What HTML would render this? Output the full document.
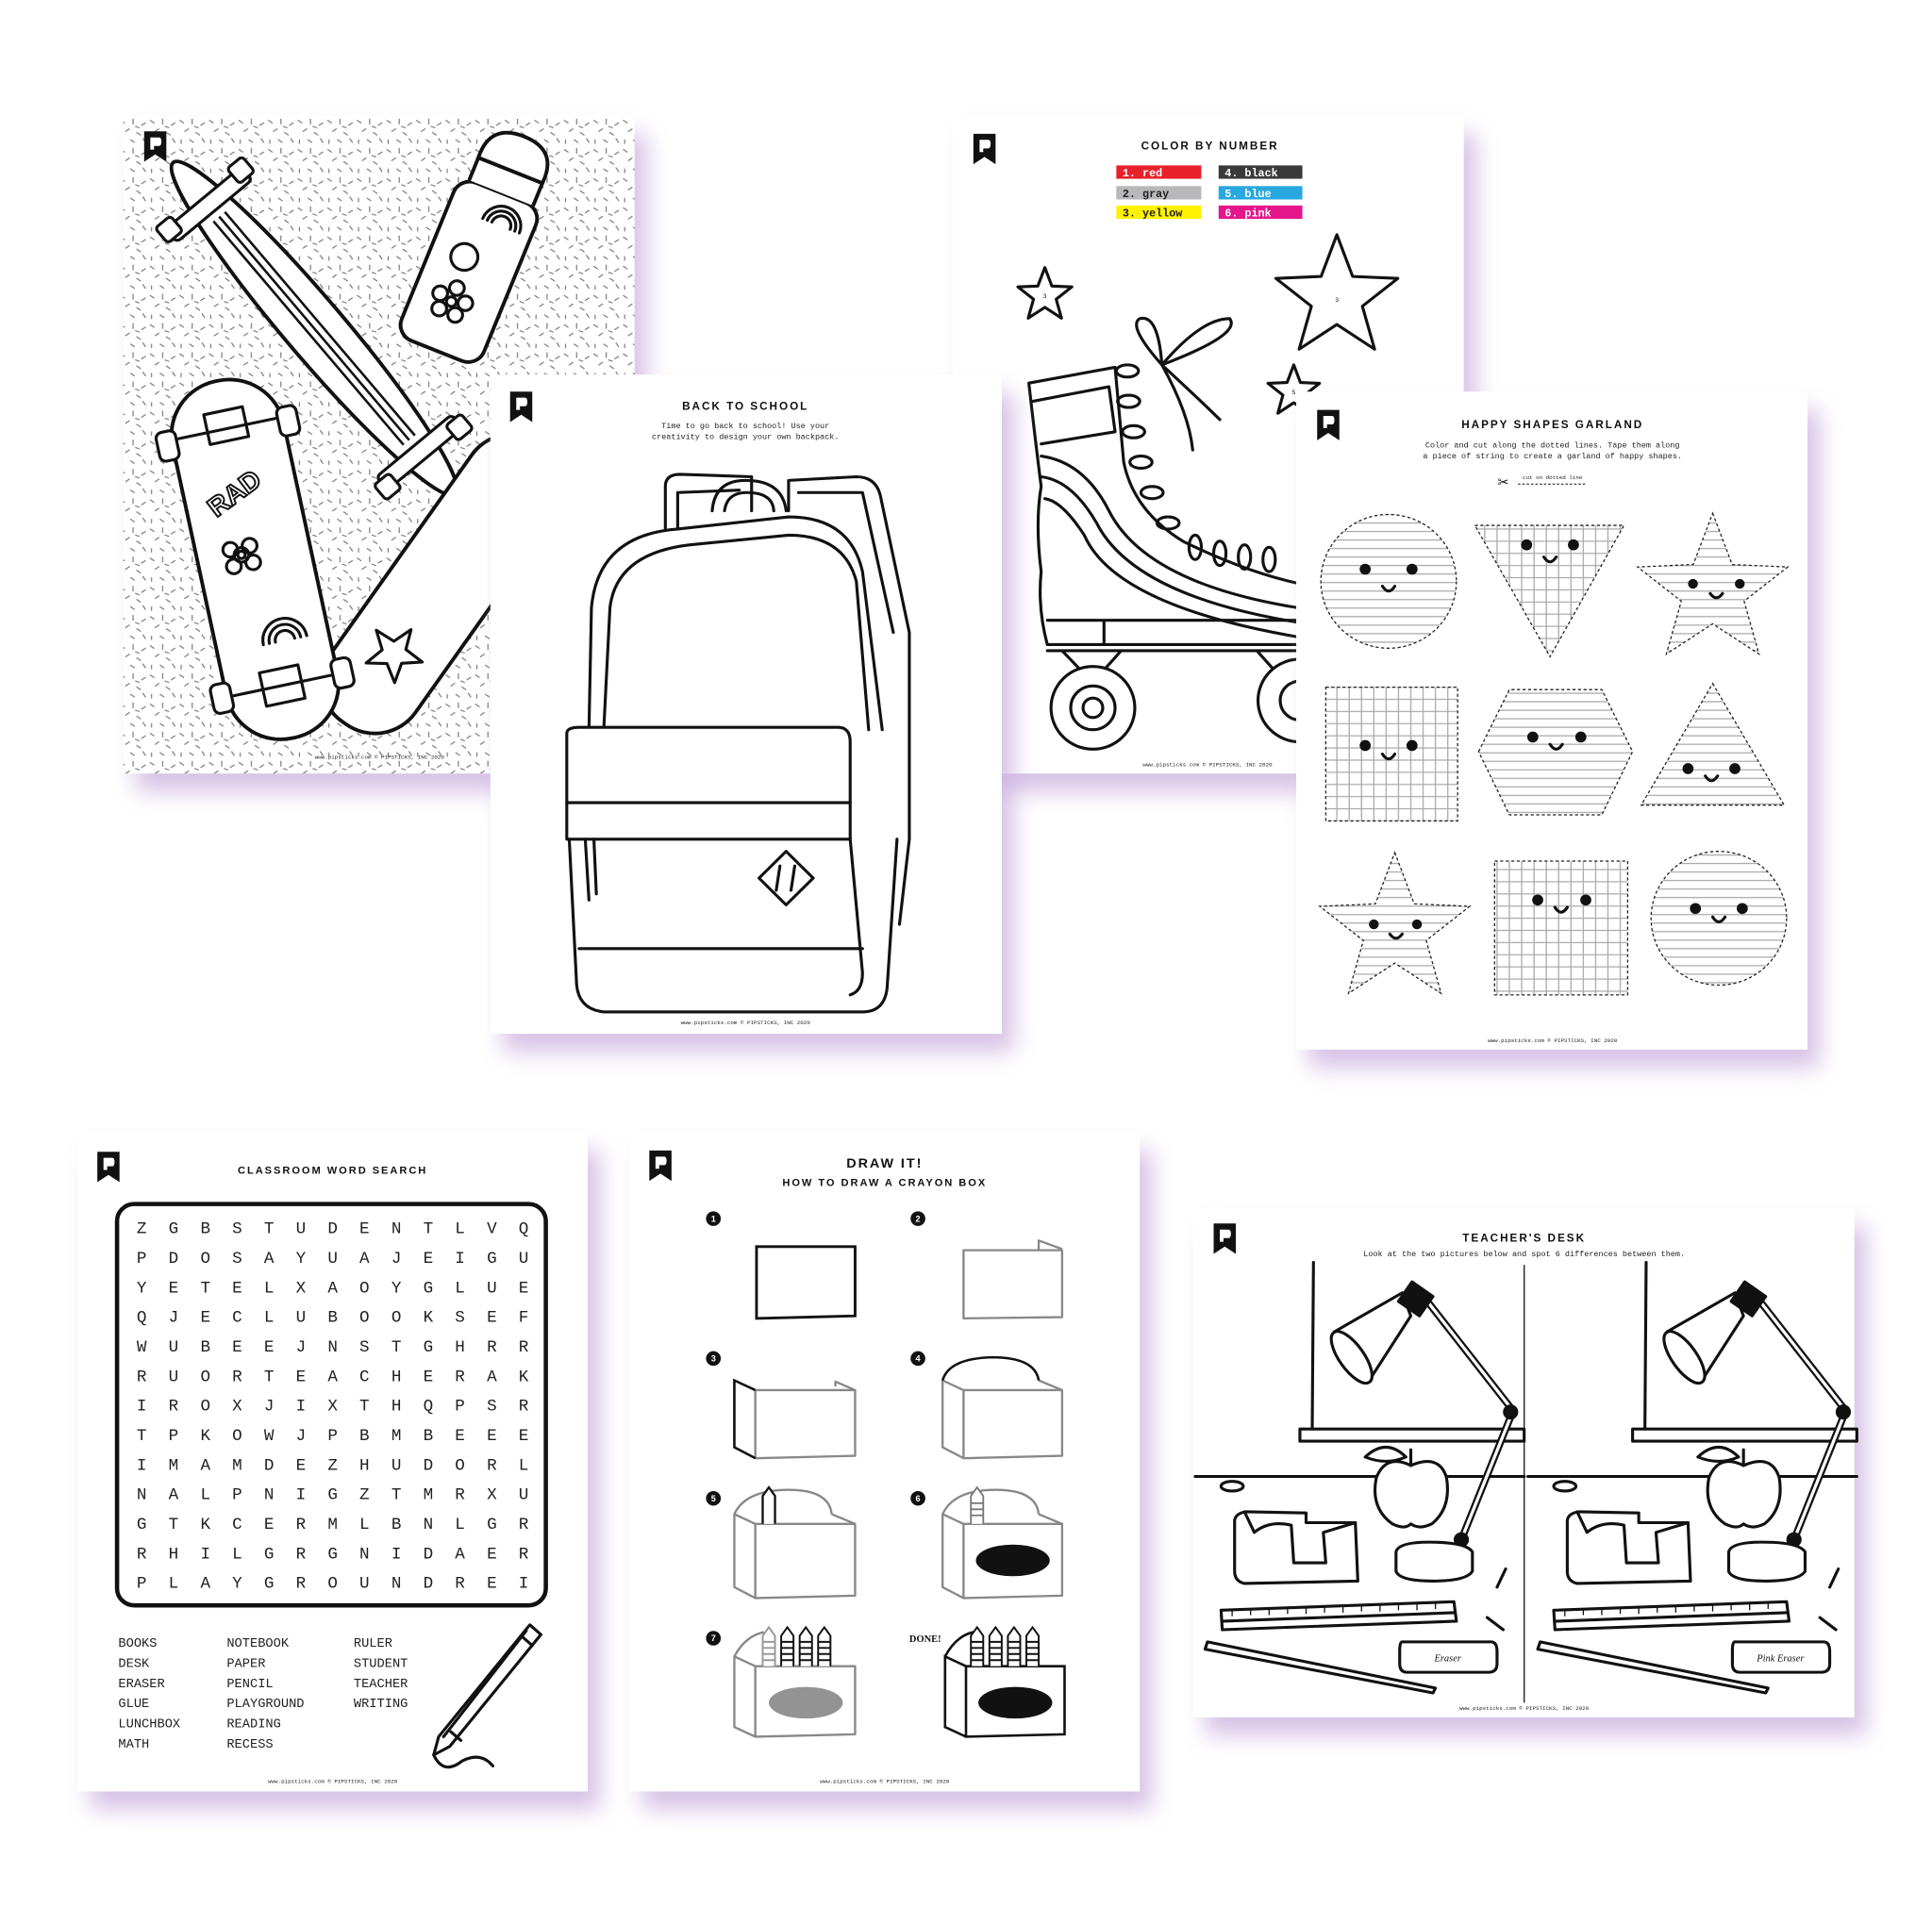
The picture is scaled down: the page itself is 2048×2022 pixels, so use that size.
<!DOCTYPE html>
<html><head><meta charset="utf-8"><style>
html,body{margin:0;padding:0;background:#fff;width:2048px;height:2022px;overflow:hidden}
svg{display:block}
.t{font-family:"Liberation Sans",sans-serif;font-weight:bold;letter-spacing:1.5px;fill:#111}
.m{font-family:"Liberation Mono",monospace;fill:#222}
.ln{fill:none;stroke:#111;stroke-width:2.4;stroke-linejoin:round;stroke-linecap:round}
.gr{fill:none;stroke:#888;stroke-width:1.8;stroke-linejoin:round}
.pg{fill:#fff}
.st{fill:#fff;stroke:#111;stroke-width:2.4;stroke-linejoin:round}
</style></head><body>
<svg width="2048" height="2022" viewBox="0 0 1568 1568" preserveAspectRatio="none" xmlns="http://www.w3.org/2000/svg">
<defs>
<filter id="sh" x="-20%" y="-20%" width="140%" height="140%"><feGaussianBlur stdDeviation="9"/></filter>
<pattern id="spk" width="24" height="24" patternUnits="userSpaceOnUse">
<g stroke="#777" stroke-width="0.9" stroke-linecap="round">
<line x1="2" y1="3" x2="5" y2="5"/><line x1="12" y1="2" x2="12" y2="6"/><line x1="19" y1="7" x2="22" y2="5"/>
<line x1="6" y1="12" x2="9" y2="10"/><line x1="15" y1="13" x2="18" y2="15"/><line x1="3" y1="19" x2="3" y2="22"/>
<line x1="10" y1="19" x2="13" y2="21"/><line x1="20" y1="18" x2="22" y2="21"/><line x1="17" y1="9" x2="14" y2="8"/>
</g></pattern>
<pattern id="hl" width="6" height="7" patternUnits="userSpaceOnUse"><line x1="0" y1="3" x2="6" y2="3" stroke="#aaa" stroke-width="1"/></pattern>
<pattern id="grid" width="10" height="10" patternUnits="userSpaceOnUse"><path d="M0 5H10M5 0V10" stroke="#aaa" stroke-width="1"/></pattern>
<g id="logo"><path d="M0 0H18V25L9 19L0 25Z" fill="#111"/><path d="M5 5H12Q14 5 14 8.5Q14 12 12 12H8V15H5Z" fill="#fff"/></g>
</defs>

<!-- ============ SKATE PAGE ============ -->
<rect x="110" y="110" width="415" height="541" fill="#cdb4e0" filter="url(#sh)" opacity=".8"/>
<rect class="pg" x="100" y="95" width="415" height="541"/>
<rect x="100" y="95" width="415" height="541" fill="url(#spk)"/>
<use href="#logo" x="117" y="108"/>
<g transform="translate(255,270) rotate(50)">
<ellipse rx="178" ry="24" fill="#fff" stroke="#111" stroke-width="3"/>
<line x1="-120" y1="-6" x2="120" y2="-6" stroke="#111" stroke-width="2"/><line x1="-120" y1="0" x2="120" y2="0" stroke="#111" stroke-width="2"/><line x1="-120" y1="6" x2="120" y2="6" stroke="#111" stroke-width="2"/>
<g class="ln"><rect x="-140" y="-40" width="14" height="80" rx="4" fill="#fff"/><rect x="126" y="-40" width="14" height="80" rx="4" fill="#fff"/>
<rect x="-146" y="-46" width="16" height="16" rx="3" fill="#fff"/><rect x="-146" y="30" width="16" height="16" rx="3" fill="#fff"/>
<rect x="130" y="-46" width="16" height="16" rx="3" fill="#fff"/><rect x="130" y="30" width="16" height="16" rx="3" fill="#fff"/></g>
</g>
<g transform="translate(388,205) rotate(22)">
<rect x="-36" y="-50" width="72" height="140" rx="14" fill="#fff" stroke="#111" stroke-width="3"/>
<path d="M-28 -50V-70H28V-50" fill="#fff" stroke="#111" stroke-width="3"/>
<path d="M-28 -70Q-30 -100 0 -100Q30 -100 28 -70Z" fill="#fff" stroke="#111" stroke-width="3"/>
<path d="M-6 -25A16 16 0 0 1 26 -25M-2 -25A12 12 0 0 1 22 -25M2 -25A8 8 0 0 1 18 -25" class="ln" stroke-width="2"/>
<circle cx="-8" cy="10" r="11" class="ln" stroke-width="2"/>
<g class="ln" stroke-width="2"><circle cx="-4" cy="36" r="6"/><circle cx="7" cy="45" r="6"/><circle cx="-15" cy="45" r="6"/><circle cx="3" cy="57" r="6"/><circle cx="-11" cy="57" r="6"/><circle cx="-4" cy="48" r="4"/></g>
</g>
<g transform="translate(360,480) rotate(35)">
<rect x="-42" y="-140" width="84" height="280" rx="40" fill="#fff" stroke="#111" stroke-width="3"/>
<polygon class="st" points="0,46 5.9,61.8 22.8,62.6 9.6,73.1 14.1,89.4 0,80.1 -14.1,89.4 -9.6,73.1 -22.8,62.6 -5.9,61.8"/>
</g>
<g transform="translate(207,460) rotate(-12)">
<rect x="-46" y="-150" width="92" height="300" rx="45" fill="#fff" stroke="#111" stroke-width="3"/>
<g class="ln" stroke-width="2.5"><rect x="-58" y="-118" width="16" height="24" rx="5" fill="#fff"/><rect x="42" y="-118" width="16" height="24" rx="5" fill="#fff"/><path d="M-40 -110H40M-16 -125H16V-100H-16Z"/>
<rect x="-58" y="94" width="16" height="24" rx="5" fill="#fff"/><rect x="42" y="94" width="16" height="24" rx="5" fill="#fff"/><path d="M-40 106H40M-16 92H16V120H-16Z"/></g>
<text x="-2" y="-50" text-anchor="middle" transform="rotate(-25 -2 -50)" font-family="Liberation Sans" font-weight="bold" font-size="22" fill="#fff" stroke="#111" stroke-width="1.5">RAD</text>
<g class="ln" stroke-width="2"><circle cx="-10" cy="-6" r="6"/><circle cx="-18" cy="-12" r="6"/><circle cx="-2" cy="-12" r="6"/><circle cx="-18" cy="2" r="6"/><circle cx="-2" cy="2" r="6"/><circle cx="-10" cy="-6" r="3"/>
<path d="M-8 70A18 18 0 0 1 28 70M-3 70A13 13 0 0 1 23 70M2 70A8 8 0 0 1 18 70"/></g>
</g>
<text x="308" y="624" class="m" font-size="4.5" text-anchor="middle">www.pipsticks.com   © PIPSTICKS, INC 2020</text>

<!-- ============ COLOR BY NUMBER PAGE ============ -->
<rect x="783" y="110" width="415" height="541" fill="#cdb4e0" filter="url(#sh)" opacity=".8"/>
<rect class="pg" x="773" y="95" width="415" height="541"/>
<use href="#logo" x="790" y="110"/>
<text x="982" y="123" class="t" font-size="9" text-anchor="middle">COLOR BY NUMBER</text>
<g font-family="Liberation Mono" font-weight="bold" font-size="9">
<rect x="906" y="136" width="69" height="11" fill="#e8202a"/><text x="911" y="145" fill="#fff">1. red</text>
<rect x="989" y="136" width="68" height="11" fill="#3a3a3a"/><text x="994" y="145" fill="#fff">4. black</text>
<rect x="906" y="153" width="69" height="11" fill="#b8b8ba"/><text x="911" y="162" fill="#222">2. gray</text>
<rect x="989" y="153" width="68" height="11" fill="#29a8df"/><text x="994" y="162" fill="#fff">5. blue</text>
<rect x="906" y="169" width="69" height="11" fill="#fff200"/><text x="911" y="178" fill="#222">3. yellow</text>
<rect x="989" y="169" width="68" height="11" fill="#e5158c"/><text x="994" y="178" fill="#fff">6. pink</text>
</g>
<polygon class="st" points="848,220 853.7,235.2 869.9,235.9 857.2,246 861.5,261.6 848,252.7 834.5,261.6 838.8,246 826.1,235.9 842.3,235.2"/>
<polygon class="st" points="1085,193 1097.8,227.3 1134.5,228.9 1105.7,251.8 1115.6,287.1 1085,266.8 1054.4,287.1 1064.3,251.8 1035.5,228.9 1072.2,227.3"/>
<polygon class="st" points="1050,300 1055.4,314.5 1070.9,315.2 1058.8,324.9 1062.9,339.8 1050,331.2 1037.1,339.8 1041.2,324.9 1029.1,315.2 1044.6,314.5"/>
<g font-family="Liberation Sans" font-size="5" fill="#111" text-anchor="middle"><text x="848" y="245">3</text><text x="1085" y="248">3</text><text x="1050" y="324">5</text></g>
<g class="ln">
<path d="M835 315L905 302L912 380Q920 420 960 445Q1010 470 1055 480V530H850Q842 500 845 470Q840 430 845 400Q840 360 835 315Z" fill="#fff"/>
<path d="M838 330L900 318L905 355L845 365"/>
<path d="M845 375Q880 380 900 420Q930 480 1055 500M845 392Q870 395 890 430Q920 490 1055 512M848 410Q862 412 880 440Q905 498 1055 524"/>
<path d="M850 510H1055M896 510V530"/>
<path d="M850 535H1055M862 535L878 552M910 535L895 552M1020 535L1035 552"/>
<circle cx="887" cy="582" r="34" fill="#fff"/><circle cx="887" cy="582" r="18"/><circle cx="887" cy="582" r="8"/>
<circle cx="1055" cy="576" r="34" fill="#fff"/><circle cx="1055" cy="576" r="16"/>
<path d="M943 300Q915 268 925 262Q940 258 943 300Q975 262 998 262Q1008 275 943 300"/>
<path d="M943 300Q975 330 990 345M943 300Q965 340 968 370"/>
</g>
<g class="ln" stroke-width="2.6">
<ellipse cx="915" cy="305" rx="9" ry="5"/><ellipse cx="916" cy="330" rx="9" ry="5"/><ellipse cx="920" cy="355" rx="9" ry="5"/><ellipse cx="926" cy="380" rx="9" ry="5"/><ellipse cx="935" cy="405" rx="9" ry="5"/><ellipse cx="948" cy="430" rx="9" ry="5"/>
<ellipse cx="970" cy="450" rx="5" ry="10"/><ellipse cx="990" cy="455" rx="5" ry="10"/><ellipse cx="1010" cy="458" rx="5" ry="10"/><ellipse cx="1030" cy="460" rx="5" ry="10"/>
</g>
<text x="980" y="630" class="m" font-size="4.5" text-anchor="middle">www.pipsticks.com   © PIPSTICKS, INC 2020</text>

<!-- ============ BACKPACK PAGE ============ -->
<rect x="408" y="323" width="415" height="542" fill="#cdb4e0" filter="url(#sh)" opacity=".8"/>
<rect class="pg" x="398" y="308" width="415" height="542"/>
<use href="#logo" x="414" y="322"/>
<text x="605" y="337" class="t" font-size="9" text-anchor="middle">BACK TO SCHOOL</text>
<text x="605" y="352" class="m" font-size="6.5" text-anchor="middle">Time to go back to school! Use your</text>
<text x="605" y="361" class="m" font-size="6.5" text-anchor="middle">creativity to design your own backpack.</text>
<g class="ln" stroke-width="2.6">
<path d="M540 440V400Q540 390 552 390L610 392V420M640 420V395L695 392Q712 392 715 410L738 520V690L730 760"/>
<path d="M550 440V405L600 403M648 405L700 405L725 520"/>
<path d="M578 420Q580 395 605 395Q635 395 638 420M588 420Q590 405 606 405Q627 405 628 420"/>
<path d="M480 500Q485 440 550 435L640 425Q690 425 700 470L716 600" fill="#fff"/>
<path d="M478 600L480 500M490 600L495 500Q500 455 560 448L640 440Q685 440 695 478L705 600"/>
<path d="M460 603Q460 598 470 598H680Q690 598 690 610V690H460Z" fill="#fff"/>
<path d="M460 660H690"/>
<path d="M462 690L468 810Q470 830 490 832H700Q718 832 720 812L728 690M690 690L700 800Q700 815 690 818"/>
<path d="M470 780H700"/>
<path d="M475 690L478 740M482 690L484 735"/>
<path d="M638 700L660 722L638 744L616 722Z M633 712L630 732M645 712L642 732"/>
</g>
<text x="605" y="842" class="m" font-size="4.5" text-anchor="middle">www.pipsticks.com   © PIPSTICKS, INC 2020</text>

<!-- ============ SHAPES PAGE ============ -->
<rect x="1062" y="337" width="415" height="541" fill="#cdb4e0" filter="url(#sh)" opacity=".8"/>
<rect class="pg" x="1052" y="322" width="415" height="541"/>
<use href="#logo" x="1069" y="337"/>
<text x="1260" y="352" class="t" font-size="9" text-anchor="middle">HAPPY SHAPES GARLAND</text>
<text x="1260" y="368" class="m" font-size="6.5" text-anchor="middle">Color and cut along the dotted lines. Tape them along</text>
<text x="1260" y="377" class="m" font-size="6.5" text-anchor="middle">a piece of string to create a garland of happy shapes.</text>
<text x="1220" y="400" font-size="11" text-anchor="middle" fill="#111" font-family="DejaVu Sans">✂</text>
<text x="1260" y="394" class="m" font-size="4.5" text-anchor="middle">cut on dotted line</text>
<line x1="1232" y1="398" x2="1288" y2="398" stroke="#111" stroke-width="0.8" stroke-dasharray="2 1.5"/>
<g stroke="#222" stroke-width="1" stroke-dasharray="2.5 2">
<circle cx="1127" cy="478" r="55" fill="url(#hl)"/>
<polygon points="1197,432 1318,432 1258,540" fill="url(#grid)"/>
<polygon fill="url(#hl)" points="1390,422 1405.8,464.2 1450.9,466.2 1415.5,494.3 1427.6,537.8 1390,512.9 1352.4,537.8 1364.5,494.3 1329.1,466.2 1374.2,464.2"/>
<rect x="1076" y="565" width="107" height="110" fill="url(#grid)"/>
<polygon points="1200,618 1225,567 1300,567 1325,618 1300,670 1225,670" fill="url(#hl)"/>
<polygon points="1390,562 1448,662 1332,662" fill="url(#hl)"/>
<polygon fill="url(#hl)" points="1132,701 1147.8,743.2 1192.9,745.2 1157.5,773.3 1169.6,816.8 1132,791.9 1094.4,816.8 1106.5,773.3 1071.1,745.2 1116.2,743.2"/>
<rect x="1213" y="708" width="108" height="110" fill="url(#grid)"/>
<circle cx="1395" cy="755" r="55" fill="url(#hl)"/>
</g>
<g fill="#111">
<circle cx="1108" cy="468" r="4.5"/><circle cx="1146" cy="468" r="4.5"/>
<circle cx="1239" cy="448" r="4.5"/><circle cx="1277" cy="448" r="4.5"/>
<circle cx="1374" cy="480" r="4"/><circle cx="1412" cy="480" r="4"/>
<circle cx="1108" cy="613" r="4.5"/><circle cx="1146" cy="613" r="4.5"/>
<circle cx="1244" cy="606" r="4.5"/><circle cx="1283" cy="606" r="4.5"/>
<circle cx="1370" cy="632" r="4.5"/><circle cx="1408" cy="632" r="4.5"/>
<circle cx="1115" cy="760" r="4"/><circle cx="1150" cy="760" r="4"/>
<circle cx="1248" cy="740" r="4.5"/><circle cx="1287" cy="740" r="4.5"/>
<circle cx="1376" cy="747" r="4.5"/><circle cx="1414" cy="747" r="4.5"/>
</g>
<g class="ln" stroke-width="1.4">
<path d="M1122 482Q1127 490 1132 482M1253 458Q1258 466 1263 458M1388 488Q1393 495 1398 488M1122 620Q1127 628 1132 620M1258 612Q1263 620 1268 612M1384 638Q1389 646 1394 638M1128 768Q1133 775 1138 768M1262 746Q1267 754 1272 746M1390 754Q1395 762 1400 754"/>
</g>
<text x="1260" y="857" class="m" font-size="4.5" text-anchor="middle">www.pipsticks.com   © PIPSTICKS, INC 2020</text>

<!-- ============ WORD SEARCH PAGE ============ -->
<rect x="73" y="946" width="414" height="542" fill="#cdb4e0" filter="url(#sh)" opacity=".8"/>
<rect class="pg" x="63" y="931" width="414" height="542"/>
<use href="#logo" x="79" y="947"/>
<text x="270" y="965" class="t" font-size="8.5" text-anchor="middle">CLASSROOM WORD SEARCH</text>
<rect x="95" y="990" width="348" height="330" rx="14" fill="none" stroke="#111" stroke-width="3.5"/>
<g class="m" font-size="13.5" fill="#222" text-anchor="middle">
<text y="1014" x="115 140.8 166.7 192.5 218.3 244.2 270 295.8 321.7 347.5 373.3 399.2 425">ZGBSTUDENTLVQ</text>
<text y="1038.3" x="115 140.8 166.7 192.5 218.3 244.2 270 295.8 321.7 347.5 373.3 399.2 425">PDOSAYUAJEIGU</text>
<text y="1062.6" x="115 140.8 166.7 192.5 218.3 244.2 270 295.8 321.7 347.5 373.3 399.2 425">YETELXAOYGLUE</text>
<text y="1086.9" x="115 140.8 166.7 192.5 218.3 244.2 270 295.8 321.7 347.5 373.3 399.2 425">QJECLUBOOKSEF</text>
<text y="1111.2" x="115 140.8 166.7 192.5 218.3 244.2 270 295.8 321.7 347.5 373.3 399.2 425">WUBEEJNSTGHRR</text>
<text y="1135.5" x="115 140.8 166.7 192.5 218.3 244.2 270 295.8 321.7 347.5 373.3 399.2 425">RUORTEACHERAK</text>
<text y="1159.8" x="115 140.8 166.7 192.5 218.3 244.2 270 295.8 321.7 347.5 373.3 399.2 425">IROXJIXTHQPSR</text>
<text y="1184.1" x="115 140.8 166.7 192.5 218.3 244.2 270 295.8 321.7 347.5 373.3 399.2 425">TPKOWJPBMBEEE</text>
<text y="1208.4" x="115 140.8 166.7 192.5 218.3 244.2 270 295.8 321.7 347.5 373.3 399.2 425">IMAMDEZHUDORL</text>
<text y="1232.7" x="115 140.8 166.7 192.5 218.3 244.2 270 295.8 321.7 347.5 373.3 399.2 425">NALPNIGZTMRXU</text>
<text y="1257" x="115 140.8 166.7 192.5 218.3 244.2 270 295.8 321.7 347.5 373.3 399.2 425">GTKCERMLBNLGR</text>
<text y="1281.3" x="115 140.8 166.7 192.5 218.3 244.2 270 295.8 321.7 347.5 373.3 399.2 425">RHILGRGNIDAER</text>
<text y="1305.6" x="115 140.8 166.7 192.5 218.3 244.2 270 295.8 321.7 347.5 373.3 399.2 425">PLAYGROUNDREI</text>
</g>
<g class="m" font-size="10.5" fill="#222">
<text x="96" y="1354">BOOKS</text><text x="96" y="1370.6">DESK</text><text x="96" y="1387.2">ERASER</text><text x="96" y="1403.8">GLUE</text><text x="96" y="1420.4">LUNCHBOX</text><text x="96" y="1437">MATH</text>
<text x="184" y="1354">NOTEBOOK</text><text x="184" y="1370.6">PAPER</text><text x="184" y="1387.2">PENCIL</text><text x="184" y="1403.8">PLAYGROUND</text><text x="184" y="1420.4">READING</text><text x="184" y="1437">RECESS</text>
<text x="287" y="1354">RULER</text><text x="287" y="1370.6">STUDENT</text><text x="287" y="1387.2">TEACHER</text><text x="287" y="1403.8">WRITING</text>
</g>
<g class="ln" stroke-width="2">
<path d="M430 1336L439 1344L365 1436L352 1443L356 1428Z" fill="#fff"/>
<path d="M423 1345L432 1353M366 1424L374 1431M427 1341L360 1428"/>
<path d="M352 1443Q360 1460 375 1448Q390 1440 400 1452"/>
</g>
<text x="270" y="1466" class="m" font-size="4.5" text-anchor="middle">www.pipsticks.com   © PIPSTICKS, INC 2020</text>

<!-- ============ DRAW IT PAGE ============ -->
<rect x="521" y="946" width="414" height="542" fill="#cdb4e0" filter="url(#sh)" opacity=".8"/>
<rect class="pg" x="511" y="931" width="414" height="542"/>
<use href="#logo" x="527" y="946"/>
<text x="718" y="960" class="t" font-size="11" text-anchor="middle">DRAW IT!</text>
<text x="718" y="975" class="t" font-size="8.5" text-anchor="middle">HOW TO DRAW A CRAYON BOX</text>
<g font-family="Liberation Sans" font-weight="bold" font-size="7" text-anchor="middle">
<circle cx="579" cy="1002" r="6" fill="#111"/><text x="579" y="1004.5" fill="#fff">1</text>
<circle cx="745" cy="1002" r="6" fill="#111"/><text x="745" y="1004.5" fill="#fff">2</text>
<circle cx="579" cy="1117" r="6" fill="#111"/><text x="579" y="1119.5" fill="#fff">3</text>
<circle cx="745" cy="1117" r="6" fill="#111"/><text x="745" y="1119.5" fill="#fff">4</text>
<circle cx="579" cy="1232" r="6" fill="#111"/><text x="579" y="1234.5" fill="#fff">5</text>
<circle cx="745" cy="1232" r="6" fill="#111"/><text x="745" y="1234.5" fill="#fff">6</text>
<circle cx="579" cy="1347" r="6" fill="#111"/><text x="579" y="1349.5" fill="#fff">7</text>
</g>
<text x="738" y="1350" font-family="Liberation Serif" font-weight="bold" font-size="8" fill="#111">DONE!</text>
<path d="M614 1025H694V1082L614 1084Z" fill="none" stroke="#111" stroke-width="2.2"/>
<path d="M782 1028H862V1083L782 1084ZM843 1028V1020L862 1027" class="gr"/>
<path d="M613 1143H694V1197L613 1199ZM694 1143L678 1136V1140" class="gr"/>
<path d="M613 1143L596 1135V1190L613 1199" fill="none" stroke="#111" stroke-width="2"/>
<path d="M782 1143H862V1197L782 1199ZM782 1143L765 1135V1190L782 1199M862 1143L843 1135" class="gr"/>
<path d="M765 1135Q770 1117 805 1116Q840 1116 843 1135" fill="none" stroke="#111" stroke-width="2"/>
<path d="M613 1253H694V1312L613 1314ZM613 1253L596 1245V1305L613 1314M694 1253L675 1245M596 1245Q605 1225 640 1225Q673 1225 675 1245" class="gr"/>
<path d="M619 1253V1230L624 1223L629 1230V1253" fill="#fff" stroke="#111" stroke-width="1.8"/>
<path d="M782 1253H862V1312L782 1314ZM782 1253L765 1245V1305L782 1314M862 1253L843 1245M765 1245Q774 1225 808 1225Q841 1225 843 1245" class="gr"/>
<path d="M788 1253V1230L793 1223L798 1230V1253M788 1236H798M788 1241H798M788 1246H798" fill="#fff" stroke="#777" stroke-width="1.4"/>
<ellipse cx="822" cy="1283" rx="30" ry="13" fill="#111"/>
<path d="M613 1370H694V1426L613 1428ZM613 1370L596 1362V1420L613 1428M596 1362Q605 1345 620 1342" class="gr"/>
<g stroke-width="1.5" fill="#fff">
<path d="M619 1370V1345L624 1338L629 1345V1370M619 1350H629M619 1355H629M619 1360H629M619 1365H629" stroke="#999"/>
<path d="M634 1370V1345L639 1338L644 1345V1370M634 1350H644M634 1355H644M634 1360H644M634 1365H644" stroke="#111"/>
<path d="M649 1370V1345L654 1338L659 1345V1370M649 1350H659M649 1355H659M649 1360H659M649 1365H659" stroke="#111"/>
<path d="M664 1370V1345L669 1338L674 1345V1370M664 1350H674M664 1355H674M664 1360H674M664 1365H674" stroke="#111"/>
</g>
<ellipse cx="654" cy="1400" rx="30" ry="13" fill="#939393"/>
<path d="M784 1370H864V1426L784 1428ZM784 1370L767 1362V1420L784 1428M767 1362Q776 1345 790 1342" fill="none" stroke="#111" stroke-width="2"/>
<g stroke-width="1.5" fill="#fff" stroke="#111">
<path d="M788 1370V1345L793 1338L798 1345V1370M788 1350H798M788 1355H798M788 1360H798M788 1365H798"/>
<path d="M803 1370V1345L808 1338L813 1345V1370M803 1350H813M803 1355H813M803 1360H813M803 1365H813"/>
<path d="M818 1370V1345L823 1338L828 1345V1370M818 1350H828M818 1355H828M818 1360H828M818 1365H828"/>
<path d="M833 1370V1345L838 1338L843 1345V1370M833 1350H843M833 1355H843M833 1360H843M833 1365H843"/>
</g>
<ellipse cx="824" cy="1400" rx="30" ry="13" fill="#111"/>
<text x="718" y="1466" class="m" font-size="4.5" text-anchor="middle">www.pipsticks.com   © PIPSTICKS, INC 2020</text>

<!-- ============ TEACHER'S DESK PAGE ============ -->
<rect x="978" y="1008" width="537" height="419" fill="#cdb4e0" filter="url(#sh)" opacity=".8"/>
<rect class="pg" x="968" y="993" width="537" height="419"/>
<use href="#logo" x="985" y="1006"/>
<text x="1237" y="1021" class="t" font-size="9" text-anchor="middle">TEACHER'S DESK</text>
<text x="1237" y="1033" class="m" font-size="6.5" text-anchor="middle">Look at the two pictures below and spot 6 differences between them.</text>
<line x1="1237" y1="1040" x2="1237" y2="1400" stroke="#333" stroke-width="1.2"/>
<g id="scene">
<g class="ln" stroke-width="2.2">
<path d="M1066 1038L1065 1174"/>
<rect x="1055" y="1175" width="182" height="10" fill="#fff"/>
<path d="M970 1214H1237"/>
<path d="M1160 1072L1228 1160L1186 1266" stroke-width="6" stroke="#111"/>
<path d="M1160 1072L1228 1160L1186 1266" stroke-width="2.5" stroke="#fff"/>
<path d="M1138 1063L1083 1095L1110 1137L1145 1082Z" fill="#fff"/>
<ellipse cx="1097" cy="1116" rx="10" ry="25" transform="rotate(-35 1097 1116)" fill="#fff"/>
<path d="M1146 1054L1163 1066L1152 1082L1135 1070Z" fill="#111"/>
<circle cx="1226" cy="1161" r="5" fill="#111"/><circle cx="1186" cy="1266" r="5" fill="#111"/>
<path d="M1133 1276Q1135 1268 1160 1268Q1190 1268 1195 1276V1292Q1190 1300 1163 1300Q1136 1300 1133 1292Z" fill="#fff"/>
<path d="M1145 1205Q1125 1195 1117 1215Q1112 1240 1130 1253Q1140 1258 1145 1253Q1152 1258 1162 1253Q1178 1240 1174 1215Q1168 1195 1145 1205Z" fill="#fff"/>
<path d="M1145 1205V1192M1141 1198Q1125 1182 1108 1198Q1125 1205 1141 1198"/>
<path d="M1002 1250Q1003 1244 1012 1243L1060 1244L1060 1252H1100L1102 1300L1010 1302Q1002 1300 1002 1292Z" fill="#fff"/>
<path d="M1010 1243L1018 1260Q1030 1250 1048 1254L1050 1285H1076L1074 1260L1100 1252"/>
<path d="M991 1324L1180 1317L1182 1333L992 1340Z" fill="#fff"/>
<path d="M993 1333L1180 1326"/>
<path d="M980 1350L1165 1388L1163 1392L978 1356Z" fill="#fff"/>
<path d="M1138 1350H1210Q1215 1350 1215 1358V1368Q1215 1375 1208 1375H1142Q1136 1375 1136 1368V1357Q1136 1350 1138 1350Z" fill="#fff"/>
<ellipse cx="1000" cy="1222" rx="9" ry="4"/>
<path d="M1215 1305L1222 1290M1207 1330L1220 1340"/>
</g>
<g stroke="#111" stroke-width="1">
<path d="M1000 1324V1329M1015 1323V1328M1030 1323V1328M1045 1322V1327M1060 1322V1327M1075 1321V1326M1090 1321V1326M1105 1320V1325M1120 1320V1325M1135 1319V1324M1150 1319V1324M1165 1318V1323"/>
</g>
</g>
<use href="#scene" transform="translate(270,0)"/>
<text x="1445" y="1366" text-anchor="middle" font-family="Liberation Serif" font-style="italic" font-size="8" fill="#111">Pink Eraser</text>
<text x="1175" y="1366" text-anchor="middle" font-family="Liberation Serif" font-style="italic" font-size="8" fill="#111">Eraser</text>
<text x="1237" y="1406" class="m" font-size="4.5" text-anchor="middle">www.pipsticks.com   © PIPSTICKS, INC 2020</text>
</svg>
</body></html>
